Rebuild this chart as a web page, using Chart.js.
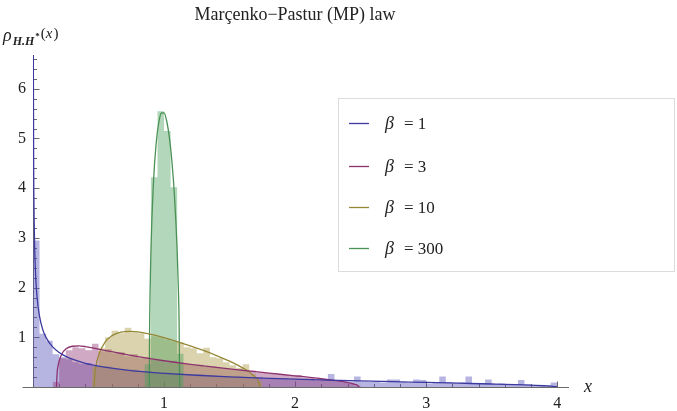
<!DOCTYPE html>
<html>
<head>
<meta charset="utf-8">
<script src="https://cdn.jsdelivr.net/npm/chart.js@4.4.1/dist/chart.umd.min.js"></script>
<style>
  body { margin: 0; background: #fff; }
  #wrap { width: 677px; height: 411px; }
</style>
</head>
<body>
<div id="wrap"><canvas id="mp"></canvas></div>
<script>
// Marchenko-Pastur law: histograms of eigenvalues + density curves, one per beta
const betas = [1, 3, 10, 300];
const binWidth = 0.05;
const binStart = [0, 0.15, 0.45, 0.85];   // left edge of first bin for each beta

const histBeta1 = [2.95, 1.07, 0.93, 0.66, 0.60, 0.56, 0.50, 0.47, 0.48, 0.43,
  0.40, 0.41, 0.37, 0.36, 0.34, 0.35, 0.31, 0.32, 0.29, 0.28,
  0.29, 0.26, 0.27, 0.25, 0.24, 0.25, 0.22, 0.23, 0.21, 0.22,
  0.20, 0.21, 0.19, 0.18, 0.20, 0.17, 0.18, 0.16, 0.17, 0.15,
  0.16, 0.14, 0.15, 0.13, 0.14, 0.26, 0.13, 0.12, 0.11, 0.21,
  0.11, 0.10, 0.12, 0.09, 0.15, 0.15, 0.10, 0.08, 0.15, 0.14,
  0.07, 0.09, 0.21, 0.10, 0.08, 0.09, 0.21, 0.07, 0.08, 0.15,
  0.06, 0.07, 0.05, 0.06, 0.14, 0.05, 0.04, 0.03, 0.04, 0.09];
const histBeta3 = [0.10, 0.58, 0.74, 0.80, 0.78, 0.74, 0.87, 0.72, 0.76, 0.68,
  0.70, 0.62, 0.66, 0.58, 0.60, 0.55, 0.54, 0.50, 0.53, 0.47,
  0.46, 0.44, 0.45, 0.40, 0.41, 0.38, 0.37, 0.35, 0.36, 0.32,
  0.33, 0.29, 0.28, 0.27, 0.25, 0.24, 0.22, 0.24, 0.19, 0.18,
  0.16, 0.15, 0.14, 0.11, 0.09, 0.07, 0.03];
const histBeta10 = [0.40, 0.78, 1.00, 1.13, 1.08, 1.19, 1.10, 1.08, 0.97, 1.02,
  1.00, 0.96, 0.92, 0.90, 0.80, 0.78, 0.68, 0.79, 0.60, 0.58,
  0.50, 0.44, 0.38, 0.46, 0.26, 0.12];
const histBeta300 = [0.46, 4.22, 5.55, 5.15, 4.02, 0.67];

const curveBeta1 = [[0.002, 7.12], [0.005, 4.50], [0.01, 3.18], [0.02, 2.25], [0.03, 1.83],
  [0.05, 1.42], [0.075, 1.15], [0.1, 0.994], [0.15, 0.806], [0.2, 0.694], [0.25, 0.616],
  [0.3, 0.559], [0.4, 0.477], [0.5, 0.421], [0.6, 0.379], [0.75, 0.331], [0.9, 0.295],
  [1.0, 0.276], [1.25, 0.236], [1.5, 0.205], [1.75, 0.180], [2.0, 0.159], [2.25, 0.140],
  [2.5, 0.123], [2.75, 0.107], [3.0, 0.092], [3.25, 0.076], [3.5, 0.060], [3.75, 0.041],
  [3.9, 0.025], [3.97, 0.014], [4.0, 0]];
const curveBeta3 = [[0.1786, 0], [0.185, 0.313], [0.19, 0.407], [0.2, 0.528], [0.22, 0.665],
  [0.25, 0.764], [0.3, 0.820], [0.35, 0.826], [0.4, 0.812], [0.5, 0.763], [0.6, 0.710],
  [0.7, 0.659], [0.8, 0.611], [1.0, 0.528], [1.2, 0.456], [1.4, 0.393], [1.6, 0.335],
  [1.8, 0.280], [2.0, 0.225], [2.2, 0.166], [2.3, 0.131], [2.4, 0.088], [2.45, 0.057],
  [2.48, 0.026], [2.488, 0]];
const curveBeta10 = [[0.4675, 0], [0.47, 0.19], [0.48, 0.415], [0.5, 0.637], [0.55, 0.904],
  [0.6, 1.028], [0.65, 1.088], [0.7, 1.114], [0.75, 1.118], [0.8, 1.108], [0.9, 1.061],
  [1.0, 0.994], [1.1, 0.915], [1.2, 0.828], [1.3, 0.735], [1.4, 0.633], [1.5, 0.520],
  [1.6, 0.385], [1.65, 0.301], [1.7, 0.187], [1.72, 0.116], [1.7325, 0]];
const curveBeta300 = [[0.8878, 0], [0.8885, 0.68], [0.89, 1.204], [0.9, 2.742], [0.92, 4.153],
  [0.94, 4.909], [0.96, 5.327], [0.98, 5.513], [1.0, 5.515], [1.02, 5.352], [1.04, 5.031],
  [1.06, 4.536], [1.08, 3.823], [1.1, 2.749], [1.11, 1.913], [1.115, 1.275], [1.1189, 0]];

const hists = [histBeta1, histBeta3, histBeta10, histBeta300];
const curves = [curveBeta1, curveBeta3, curveBeta10, curveBeta300];

const lineColors = ['rgb(60, 58, 160)', 'rgb(140, 50, 110)', 'rgb(150, 135, 55)', 'rgb(75, 145, 85)'];
const fillColors = ['rgba(80, 78, 185, 0.42)', 'rgba(150, 65, 125, 0.45)', 'rgba(168, 150, 60, 0.42)', 'rgba(75, 160, 90, 0.42)'];

// histogram -> stepped line points (left edge at 0, then right edge of every bin)
function stepPoints(start, heights) {
  const pts = [{ x: start, y: 0 }];
  heights.forEach((h, i) => pts.push({ x: start + (i + 1) * binWidth, y: h }));
  pts.push({ x: start + heights.length * binWidth, y: 0 });
  return pts;
}

const datasets = [];
curves.forEach((c, i) => {
  datasets.push({
    label: 'β = ' + betas[i],
    data: c.map(p => ({ x: p[0], y: p[1] })),
    borderColor: lineColors[i],
    borderWidth: 1.3,
    pointRadius: 0,
    fill: false,
    cubicInterpolationMode: 'monotone',
    order: i
  });
});
hists.forEach((h, i) => {
  datasets.push({
    label: '',
    data: stepPoints(binStart[i], h),
    stepped: 'after',
    borderWidth: 0,
    borderColor: 'rgba(0,0,0,0)',
    backgroundColor: fillColors[i],
    fill: 'origin',
    pointRadius: 0,
    order: 13 - i
  });
});

// Mathematica-like axes crossing at the origin, ticks pointing inward
const axesPlugin = {
  id: 'mmaAxes',
  beforeDatasetsDraw(chart) {
    const { ctx, chartArea, scales: { x, y } } = chart;
    const x0 = Math.round(x.getPixelForValue(0)) + 0.5;
    const y0 = Math.round(y.getPixelForValue(0)) + 0.5;
    ctx.save();
    ctx.strokeStyle = '#6a6a6a';
    ctx.lineWidth = 1;
    ctx.beginPath();
    ctx.moveTo(x0 - 11, y0); ctx.lineTo(chartArea.right, y0);
    ctx.moveTo(x0, y0); ctx.lineTo(x0, chartArea.top);
    for (let i = 1; i * 0.2 <= x.max; i++) {
      const px = Math.round(x.getPixelForValue(i * 0.2)) + 0.5;
      const len = i % 5 === 0 ? 6 : 3.5;
      ctx.moveTo(px, y0); ctx.lineTo(px, y0 - len);
    }
    for (let i = 1; i * 0.2 <= y.max; i++) {
      const py = Math.round(y.getPixelForValue(i * 0.2)) + 0.5;
      const len = i % 5 === 0 ? 6 : 3.5;
      ctx.moveTo(x0, py); ctx.lineTo(x0 + len, py);
    }
    ctx.stroke();
    ctx.restore();
  }
};

const textPlugin = {
  id: 'mmaText',
  afterDraw(chart) {
    const ctx = chart.ctx;
    const serif = '"Liberation Serif", "DejaVu Serif", serif';
    ctx.save();
    ctx.fillStyle = '#222';
    ctx.textBaseline = 'alphabetic';

    // title
    ctx.font = '18px ' + serif;
    ctx.textAlign = 'center';
    ctx.fillText('Marçenko−Pastur (MP) law', 295, 20);

    // y axis label  rho_{H.H*}(x)
    ctx.textAlign = 'left';
    let cx = 3;
    ctx.font = 'italic 18px ' + serif;
    ctx.fillText('ρ', cx, 41);
    cx += ctx.measureText('ρ').width + 1;
    ctx.font = 'bold italic 12px ' + serif;
    ctx.fillText('H.H', cx, 45);
    cx += ctx.measureText('H.H').width + 1;
    ctx.font = 'bold 9px ' + serif;
    ctx.fillText('*', cx, 39);
    cx += ctx.measureText('*').width + 1;
    ctx.font = '15px ' + serif;
    ctx.fillText('(', cx, 38);
    cx += ctx.measureText('(').width;
    ctx.font = 'italic 15px ' + serif;
    ctx.fillText('x', cx, 38);
    cx += ctx.measureText('x').width + 1;
    ctx.font = '15px ' + serif;
    ctx.fillText(')', cx, 38);

    // x axis label
    ctx.font = 'italic 18px ' + serif;
    ctx.fillText('x', 584, 392);

    // legend
    ctx.fillStyle = '#fff';
    ctx.fillRect(338, 98, 337, 174);
    ctx.strokeStyle = '#dcdcdc';
    ctx.lineWidth = 1;
    ctx.strokeRect(338.5, 98.5, 336, 173);
    const rows = [123, 166, 207, 248];
    for (let i = 0; i < 4; i++) {
      const ds = chart.data.datasets[i];
      ctx.strokeStyle = ds.borderColor;
      ctx.lineWidth = 1.3;
      ctx.beginPath();
      ctx.moveTo(349, rows[i] + 0.5); ctx.lineTo(369, rows[i] + 0.5);
      ctx.stroke();
      ctx.fillStyle = '#222';
      ctx.font = 'italic 18px ' + serif;
      ctx.fillText('β', 385, rows[i] + 6);
      ctx.font = '17px ' + serif;
      ctx.fillText('= ' + betas[i], 404, rows[i] + 6);
    }
    ctx.restore();
  }
};

new Chart(document.getElementById('mp'), {
  type: 'line',
  data: { datasets: datasets },
  options: {
    responsive: true,
    maintainAspectRatio: false,
    animation: false,
    events: [],
    layout: { padding: { top: 55, right: 108, left: 0, bottom: 0 } },
    plugins: {
      legend: { display: false },
      title: { display: false },
      tooltip: { enabled: false }
    },
    scales: {
      x: {
        type: 'linear',
        min: 0,
        max: 4.09,
        grid: { display: false, drawTicks: false },
        border: { display: false },
        afterFit: s => { s.height = 24; },
        ticks: {
          stepSize: 1,
          includeBounds: false,
          padding: 7,
          color: '#222',
          font: { family: '"Liberation Serif", serif', size: 16 },
          callback: v => (Number.isInteger(v) && v !== 0 ? String(v) : '')
        }
      },
      y: {
        type: 'linear',
        min: 0,
        max: 6.68,
        grid: { display: false, drawTicks: false },
        border: { display: false },
        afterFit: s => { s.width = 33; },
        ticks: {
          stepSize: 1,
          includeBounds: false,
          padding: 7,
          color: '#222',
          font: { family: '"Liberation Serif", serif', size: 16 },
          callback: v => (Number.isInteger(v) && v !== 0 ? String(v) : '')
        }
      }
    }
  },
  plugins: [axesPlugin, textPlugin]
});
</script>
</body>
</html>
